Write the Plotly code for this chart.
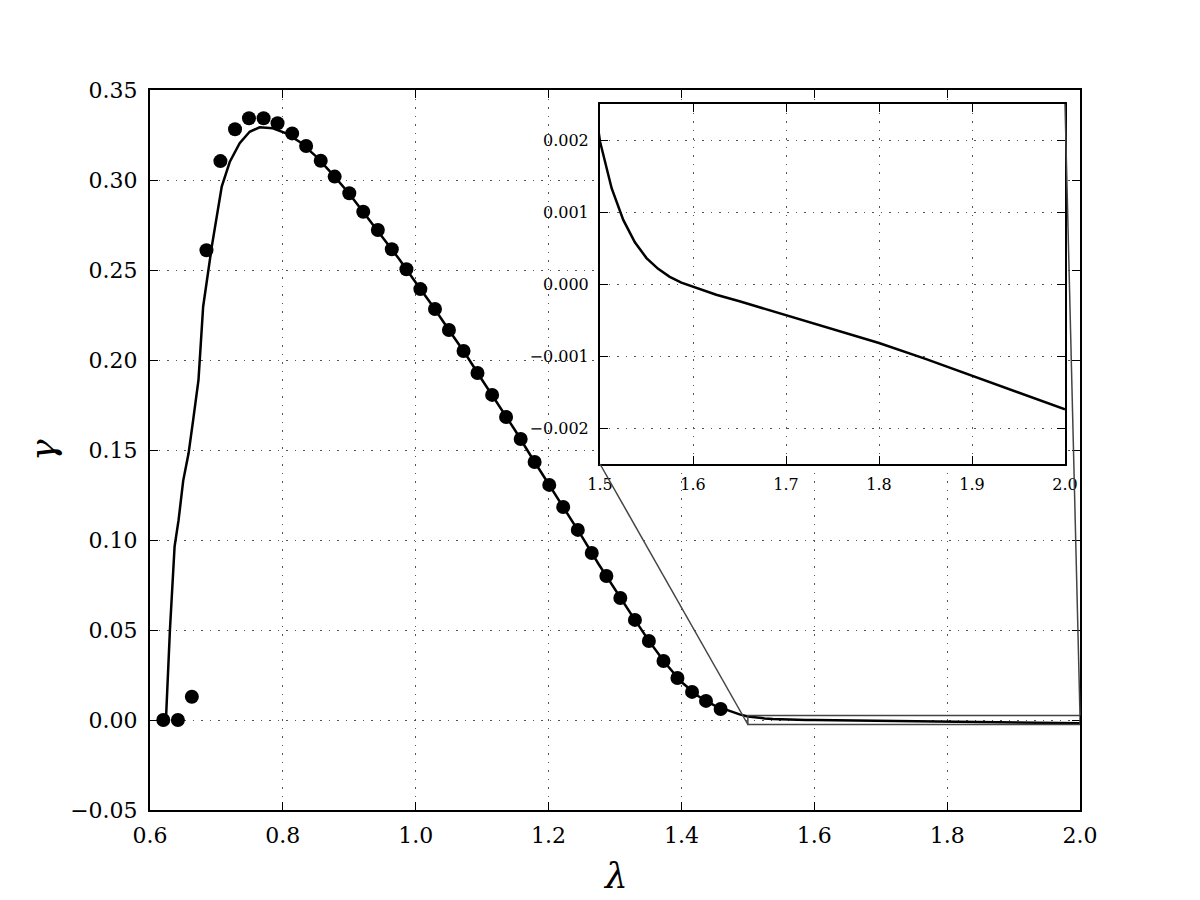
import plotly.graph_objects as go

# ---------------- data ----------------
dot_x = [0.620, 0.642, 0.663, 0.685, 0.706, 0.728, 0.749, 0.771, 0.792, 0.814,
         0.835, 0.857, 0.878, 0.900, 0.921, 0.943, 0.964, 0.986, 1.007, 1.029,
         1.050, 1.072, 1.093, 1.115, 1.136, 1.158, 1.179, 1.201, 1.222, 1.244,
         1.265, 1.287, 1.308, 1.330, 1.351, 1.373, 1.394, 1.416, 1.437, 1.459]
dot_y = [0.0000, 0.0000, 0.0129, 0.2610, 0.3105, 0.3282, 0.3343, 0.3343, 0.3315, 0.3259,
         0.3189, 0.3107, 0.3019, 0.2926, 0.2824, 0.2722, 0.2615, 0.2504, 0.2394, 0.2283,
         0.2167, 0.2050, 0.1928, 0.1806, 0.1683, 0.1561, 0.1433, 0.1306, 0.1183, 0.1056,
         0.0928, 0.0800, 0.0678, 0.0556, 0.0439, 0.0328, 0.0233, 0.0156, 0.0106, 0.0061]

line_x = [0.624, 0.630, 0.637, 0.643, 0.650, 0.658, 0.665, 0.673, 0.680, 0.693,
          0.708, 0.720, 0.735, 0.750, 0.765, 0.785, 0.805, 0.825, 0.850, 0.875,
          0.900, 0.925, 0.950, 0.975, 1.000, 1.025, 1.050, 1.075, 1.100, 1.125,
          1.150, 1.175, 1.200, 1.225, 1.250, 1.275, 1.300, 1.325, 1.350, 1.375,
          1.400, 1.425, 1.450, 1.475, 1.4875, 1.500, 1.5125, 1.525, 1.5375, 1.550,
          1.5625, 1.575, 1.5875, 1.600, 1.625, 1.650, 1.700, 1.750, 1.800, 1.850,
          1.900, 1.950, 2.000]
line_y = [0.0000, 0.0500, 0.0963, 0.1110, 0.1330, 0.1480, 0.1667, 0.1890, 0.2296, 0.2630,
          0.2963, 0.3100, 0.3204, 0.3268, 0.3293, 0.3287, 0.3259, 0.3213, 0.3131, 0.3031,
          0.2924, 0.2805, 0.2686, 0.2561, 0.2431, 0.2303, 0.2167, 0.2033, 0.1889, 0.1749,
          0.1607, 0.1457, 0.1312, 0.1166, 0.1020, 0.0868, 0.0723, 0.0584, 0.0445, 0.0319,
          0.0211, 0.0133, 0.0080, 0.0045, 0.0031, 0.00198, 0.00133, 0.00089, 0.00058, 0.00036,
          0.00021, 0.00010, 0.00002, -0.00004, -0.00015, -0.00024, -0.00043, -0.00062, -0.00082, -0.00104,
          -0.00127, -0.00150, -0.00174]

main_xticks = [0.6, 0.8, 1.0, 1.2, 1.4, 1.6, 1.8, 2.0]
main_xticktext = ["0.6", "0.8", "1.0", "1.2", "1.4", "1.6", "1.8", "2.0"]
main_yticks = [-0.05, 0.0, 0.05, 0.10, 0.15, 0.20, 0.25, 0.30, 0.35]
main_yticktext = ["\u22120.05", "0.00", "0.05", "0.10", "0.15", "0.20", "0.25", "0.30", "0.35"]
inset_xticks = [1.5, 1.6, 1.7, 1.8, 1.9, 2.0]
inset_xticktext = ["1.5", "1.6", "1.7", "1.8", "1.9", "2.0"]
inset_yticks = [-0.002, -0.001, 0.0, 0.001, 0.002]
inset_yticktext = ["\u22120.002", "\u22120.001", "0.000", "0.001", "0.002"]

main_xrange = [0.6, 2.0]
main_yrange = [-0.05, 0.35]
inset_xrange = [1.5, 2.0]
inset_yrange = [-0.0025, 0.0025]

# ---------------- layout geometry ----------------
W, H = 1200, 900
main_xdom = [150 / W, 1080 / W]
main_ydom = [1 - 810 / H, 1 - 90 / H]
inset_xdom = [600 / W, 1065 / W]
inset_ydom = [1 - 464 / H, 1 - 104 / H]

FONT = "DejaVu Serif"


def main_to_paper(x, y):
    px = main_xdom[0] + (x - main_xrange[0]) / (main_xrange[1] - main_xrange[0]) * (main_xdom[1] - main_xdom[0])
    py = main_ydom[0] + (y - main_yrange[0]) / (main_yrange[1] - main_yrange[0]) * (main_ydom[1] - main_ydom[0])
    return px, py


fig = go.Figure()

fig.add_trace(go.Scatter(x=line_x, y=line_y, mode="lines",
                         line=dict(color="black", width=2.5),
                         xaxis="x", yaxis="y", showlegend=False))
fig.add_trace(go.Scatter(x=dot_x, y=dot_y, mode="markers",
                         marker=dict(color="black", size=14),
                         xaxis="x", yaxis="y", showlegend=False))
fig.add_trace(go.Scatter(x=line_x, y=line_y, mode="lines",
                         line=dict(color="black", width=2.5),
                         xaxis="x2", yaxis="y2", showlegend=False))

axis_common = dict(showline=True, linecolor="black", linewidth=2, mirror="allticks",
                   ticks="inside", ticklen=8, tickwidth=1, tickcolor="black",
                   showgrid=True, gridcolor="#555555", gridwidth=1.3, griddash="1.5px,7px",
                   zeroline=False, automargin=False)

shapes = []
# inset marker rectangle on main axes
shapes.append(dict(type="rect", xref="x", yref="y",
                   x0=inset_xrange[0], x1=inset_xrange[1],
                   y0=inset_yrange[0], y1=inset_yrange[1],
                   line=dict(color="#444444", width=1.5), fillcolor="rgba(0,0,0,0)"))
# connector lines (lower-left to lower-left, upper-right to upper-right)
ll = main_to_paper(inset_xrange[0], inset_yrange[0])
ur = main_to_paper(inset_xrange[1], inset_yrange[1])
shapes.append(dict(type="line", xref="paper", yref="paper",
                   x0=inset_xdom[0], y0=inset_ydom[0], x1=ll[0], y1=ll[1],
                   line=dict(color="#444444", width=1.5)))
shapes.append(dict(type="line", xref="paper", yref="paper",
                   x0=inset_xdom[1], y0=inset_ydom[1], x1=ur[0], y1=ur[1],
                   line=dict(color="#444444", width=1.5)))

fig.update_layout(
    width=W, height=H,
    margin=dict(l=0, r=0, t=0, b=0),
    paper_bgcolor="white", plot_bgcolor="white",
    font=dict(family=FONT, color="black", size=22),
    xaxis=dict(domain=main_xdom, range=main_xrange, anchor="y",
               tickvals=main_xticks, ticktext=main_xticktext,
               tickfont=dict(size=22, family=FONT), ticklabelstandoff=5, **axis_common),
    yaxis=dict(domain=main_ydom, range=main_yrange, anchor="x",
               tickvals=main_yticks, ticktext=main_yticktext,
               tickfont=dict(size=22, family=FONT), ticklabelstandoff=6, **axis_common),
    xaxis2=dict(domain=inset_xdom, range=inset_xrange, anchor="y2",
                tickvals=inset_xticks, ticktext=inset_xticktext,
                tickfont=dict(size=16, family=FONT), ticklabelstandoff=5, **axis_common),
    yaxis2=dict(domain=inset_ydom, range=inset_yrange, anchor="x2",
                tickvals=inset_yticks, ticktext=inset_yticktext,
                tickfont=dict(size=16, family=FONT), ticklabelstandoff=6, **axis_common),
    shapes=shapes,
    annotations=[
        dict(text="<i>λ</i>", xref="paper", yref="paper", x=(main_xdom[0] + main_xdom[1]) / 2,
             y=1 - 875 / H, showarrow=False, font=dict(size=36, family=FONT),
             xanchor="center", yanchor="middle"),
        dict(text="<i>γ</i>", xref="paper", yref="paper", x=42 / W,
             y=(main_ydom[0] + main_ydom[1]) / 2, showarrow=False, textangle=-90,
             font=dict(size=36, family=FONT), xanchor="center", yanchor="middle"),
    ],
)

fig.write_html("out.html")
